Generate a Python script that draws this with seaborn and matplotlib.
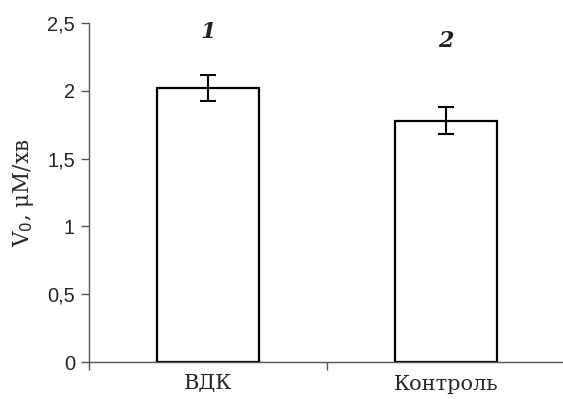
import matplotlib
matplotlib.use("Agg")
import matplotlib.pyplot as plt
import seaborn as sns
import pandas as pd

categories = ["ВДК", "Контроль"]
values = [2.02, 1.78]
errors = [0.095, 0.10]
bar_labels = ["1", "2"]
label_y = [2.43, 2.37]
yticks = [0, 0.5, 1, 1.5, 2, 2.5]
ytick_labels = ["0", "0,5", "1", "1,5", "2", "2,5"]

df = pd.DataFrame({"cat": categories, "val": values})

sns.set_style("white")
fig = plt.figure(figsize=(5.63, 3.99), dpi=100)
ax = fig.add_axes([89/563, 37/399, 476/563, 339/399])

sns.barplot(data=df, x="cat", y="val", ax=ax, color="white", edgecolor="black",
            linewidth=1.6, width=0.43, errorbar=None, saturation=1)
ax.errorbar(range(len(values)), values, yerr=errors, fmt="none", ecolor="black",
            elinewidth=1.5, capsize=6, capthick=1.5)

for i, (t, ly) in enumerate(zip(bar_labels, label_y)):
    ax.text(i, ly, t, ha="center", va="center", fontsize=16, style="italic",
            weight="bold", family="DejaVu Serif", color="#222222")

ax.set_xlim(-0.5, 1.5)
ax.set_ylim(0, 2.5)
ax.set_yticks(yticks)
ax.set_yticklabels(ytick_labels, family="Liberation Sans", fontsize=14.5)
ax.set_xticks([-0.5, 0.5], minor=False)
ax.set_xticklabels([])
ax.set_xticks([0, 1], minor=True)
ax.set_xticklabels(categories, minor=True, family="DejaVu Serif", fontsize=15)
ax.tick_params(axis="x", which="minor", bottom=False, length=0, pad=9)
ax.tick_params(axis="x", which="major", bottom=True, direction="out", length=6, width=1, color="#555555")
ax.tick_params(axis="y", left=True, direction="out", length=6, width=1, color="#555555", pad=4)
ax.set_xlabel("")
ax.set_ylabel("V$_0$, μM/хв", family="DejaVu Serif", fontsize=15.5, labelpad=8)

for s in ["top", "right"]:
    ax.spines[s].set_visible(False)
for s in ["left", "bottom"]:
    ax.spines[s].set_color("#555555")
    ax.spines[s].set_linewidth(1)

fig.savefig("out.png", dpi=100)
